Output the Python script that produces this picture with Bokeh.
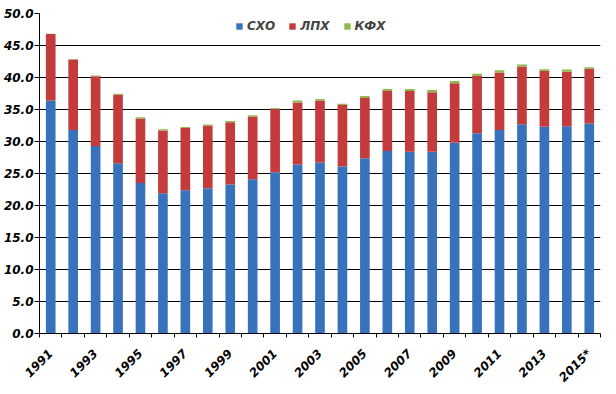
import math
from bokeh.plotting import figure
from bokeh.models import FixedTicker, NumeralTickFormatter, ColumnDataSource, Range1d, Legend
from bokeh.embed import file_html
from bokeh.resources import INLINE

years = [str(y) for y in range(1991, 2015)] + ["2015*"]
sxo = [36.4, 31.8, 29.3, 26.6, 23.5, 21.9, 22.4, 22.7, 23.3, 24.1, 25.2, 26.4, 26.7,
       26.1, 27.4, 28.5, 28.4, 28.4, 29.8, 31.3, 31.8, 32.7, 32.3, 32.4, 32.8]
lph = [10.4, 11.0, 10.9, 10.7, 10.1, 9.8, 9.7, 9.8, 9.7, 9.8, 9.9, 9.7, 9.7,
       9.6, 9.4, 9.4, 9.5, 9.3, 9.3, 8.95, 9.0, 9.0, 8.7, 8.5, 8.55]
kfh = [0.05, 0.05, 0.1, 0.15, 0.2, 0.2, 0.15, 0.15, 0.2, 0.2, 0.15, 0.3, 0.25,
       0.2, 0.3, 0.3, 0.3, 0.35, 0.35, 0.35, 0.35, 0.35, 0.3, 0.35, 0.25]
series_names = ["СХО", "ЛПХ", "КФХ"]
colors = ["#3872bd", "#c43b3c", "#8fb84e"]
y_ticks = [0, 5, 10, 15, 20, 25, 30, 35, 40, 45, 50]

x = [i + 0.5 for i in range(len(years))]
source = ColumnDataSource(data=dict(x=x, СХО=sxo, ЛПХ=lph, КФХ=kfh))

FONT = "DejaVu Sans"

p = figure(frame_width=561, frame_height=320, output_backend="svg", toolbar_location=None,
           x_range=Range1d(0, len(years)), y_range=Range1d(0, 50),
           min_border_top=13, min_border_right=6, min_border_left=2, min_border_bottom=4)
p.outline_line_color = None
p.background_fill_color = "white"

renderers = p.vbar_stack(series_names, x="x", width=0.43, color=colors, line_color=None,
                         source=source)

# y axis
p.yaxis.ticker = FixedTicker(ticks=y_ticks)
p.yaxis.formatter = NumeralTickFormatter(format="0.0")
p.yaxis.major_label_text_font = FONT
p.yaxis.major_label_text_font_style = "bold italic"
p.yaxis.major_label_text_font_size = "12px"
p.yaxis.major_label_text_color = "black"
p.yaxis.major_tick_out = 5
p.yaxis.major_tick_in = 0
p.yaxis.minor_tick_line_color = None
p.yaxis.axis_line_color = "black"
p.yaxis.major_tick_line_color = "black"
p.yaxis.major_label_standoff = 1

# x axis
centers = x[::2]
p.xaxis.ticker = FixedTicker(ticks=centers, minor_ticks=list(range(len(years) + 1)))
p.xaxis.major_label_overrides = {c: years[int(c - 0.5)] for c in centers}
p.xaxis.major_tick_line_color = None
p.xaxis.minor_tick_out = 4
p.xaxis.minor_tick_in = 0
p.xaxis.minor_tick_line_color = "black"
p.xaxis.axis_line_color = "black"
p.xaxis.major_label_orientation = math.pi / 4
p.xaxis.major_label_text_font = FONT
p.xaxis.major_label_text_font_style = "bold italic"
p.xaxis.major_label_text_font_size = "12px"
p.xaxis.major_label_text_color = "black"
p.xaxis.major_label_standoff = 12

p.xgrid.grid_line_color = None
p.ygrid.grid_line_color = "black"
p.ygrid.grid_line_width = 1
p.ygrid.ticker = FixedTicker(ticks=y_ticks)

legend = Legend(items=[(n, [r]) for n, r in zip(series_names, renderers)],
                orientation="horizontal", location=(196, 300))
legend.label_text_font = FONT
legend.label_text_font_style = "bold italic"
legend.label_text_font_size = "12px"
legend.glyph_width = 8
legend.glyph_height = 8
legend.label_standoff = 4
legend.spacing = 13
legend.padding = 2
legend.border_line_color = None
legend.background_fill_alpha = 1.0
legend.margin = 0
p.add_layout(legend)

open("out.html", "w").write(file_html(p, INLINE))
